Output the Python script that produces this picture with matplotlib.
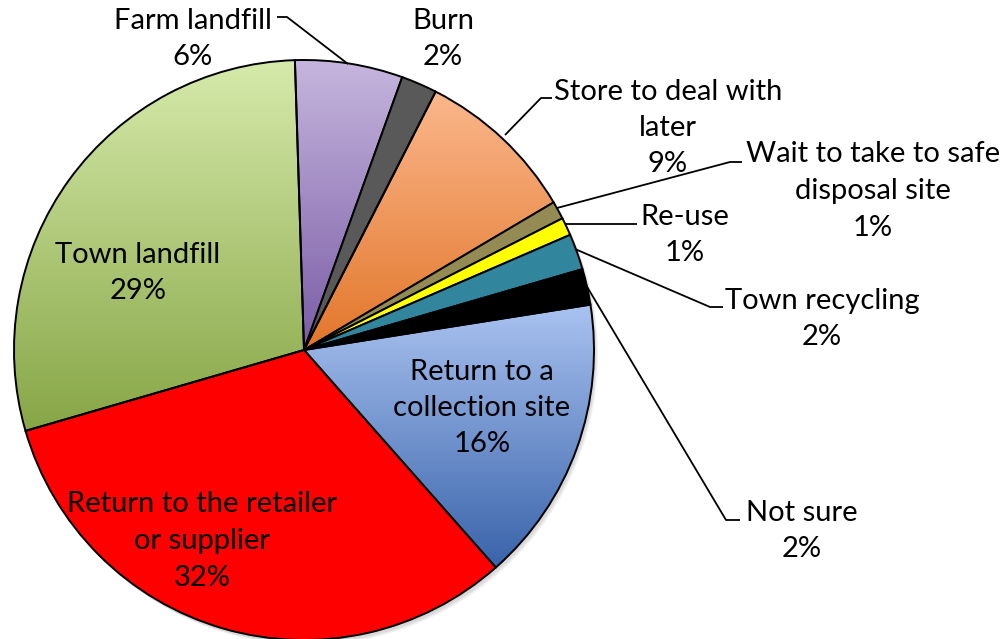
import numpy as np
import matplotlib
matplotlib.use("Agg")
import matplotlib.pyplot as plt
from matplotlib.colors import LinearSegmentedColormap

# ---- data ----
categories = ["Farm landfill", "Burn", "Store to deal with\nlater",
              "Wait to take to safe\ndisposal site", "Re-use", "Town recycling",
              "Not sure", "Return to a\ncollection site",
              "Return to the retailer\nor supplier", "Town landfill"]
values = [6, 2, 9, 1, 1, 2, 2, 16, 32, 29]
pct_labels = ["6%", "2%", "9%", "1%", "1%", "2%", "2%", "16%", "32%", "29%"]

# (top colour, bottom colour) per slice
colors = [("#C6B6DE", "#7A5CA5"), ("#595959", "#595959"), ("#FBB78C", "#E2762A"),
          ("#948A54", "#948A54"), ("#FFFF00", "#FFFF00"), ("#31859C", "#31859C"),
          ("#000000", "#000000"), ("#A9C2F0", "#3963AA"), ("#FF0000", "#FF0000"),
          ("#D6EAAB", "#87A646")]

plt.rcParams['font.family'] = ['Lato', 'DejaVu Sans']
FS = 21
LS = 1.5

W, H = 1008, 639
fig = plt.figure(figsize=(W / 100, H / 100), dpi=100)
ax = fig.add_axes([0, 0, 1, 1])

def Y(py):
    return H - py

cx, cy, R = 304, Y(350), 290

# soft shadow
for i, a in enumerate([0.05, 0.05, 0.05]):
    sh = plt.Circle((cx + 2 + i, cy - 3 - i), R, color='black', alpha=a, zorder=0, lw=0)
    ax.add_patch(sh)

wedges, _ = ax.pie(values, colors=[c[0] for c in colors], startangle=91.8,
                   counterclock=False, center=(cx, cy), radius=R,
                   wedgeprops=dict(edgecolor='black', linewidth=1.4))

for w, (ctop, cbot) in zip(wedges, colors):
    w.set_zorder(3)
    if ctop != cbot:
        verts = w.get_path().vertices
        x0, x1 = verts[:, 0].min(), verts[:, 0].max()
        y0, y1 = verts[:, 1].min(), verts[:, 1].max()
        cmap = LinearSegmentedColormap.from_list("g", [cbot, ctop])
        grad = np.linspace(0, 1, 256).reshape(-1, 1)
        im = ax.imshow(grad, extent=[x0, x1, y0, y1], origin='lower', cmap=cmap,
                       aspect='auto', zorder=2, interpolation='bilinear')
        im.set_clip_path(w)
        w.set_facecolor('none')

# labels: (x, y center px)
label_pos = [(193, 39), (443, 39), (668, 128), (873, 191), (685, 235),
             (822, 319), (802, 531), (482, 408), (202, 541), (138, 273)]
for name, pct, (lx, ly) in zip(categories, pct_labels, label_pos):
    ax.text(lx, Y(ly), name + "\n" + pct, ha='center', va='center',
            fontsize=FS, linespacing=LS, zorder=5, color='black')

# leader lines (pixel polylines)
leaders = [
    [(277, 17), (287, 17), (348, 64)],
    [(505, 135), (541, 98), (552, 98)],
    [(557, 208), (730, 162), (742, 162)],
    [(566, 224), (637, 224)],
    [(575, 249), (710, 307), (723, 307)],
    [(586, 285), (726, 520), (740, 520)],
]
for pts in leaders:
    xs = [p[0] for p in pts]
    ys = [Y(p[1]) for p in pts]
    ax.plot(xs, ys, color='black', lw=1.3, zorder=4, solid_capstyle='butt')

ax.set_xlim(0, W)
ax.set_ylim(0, H)
ax.set_aspect('auto')
ax.set_axis_off()
fig.savefig("out.png", dpi=100)
